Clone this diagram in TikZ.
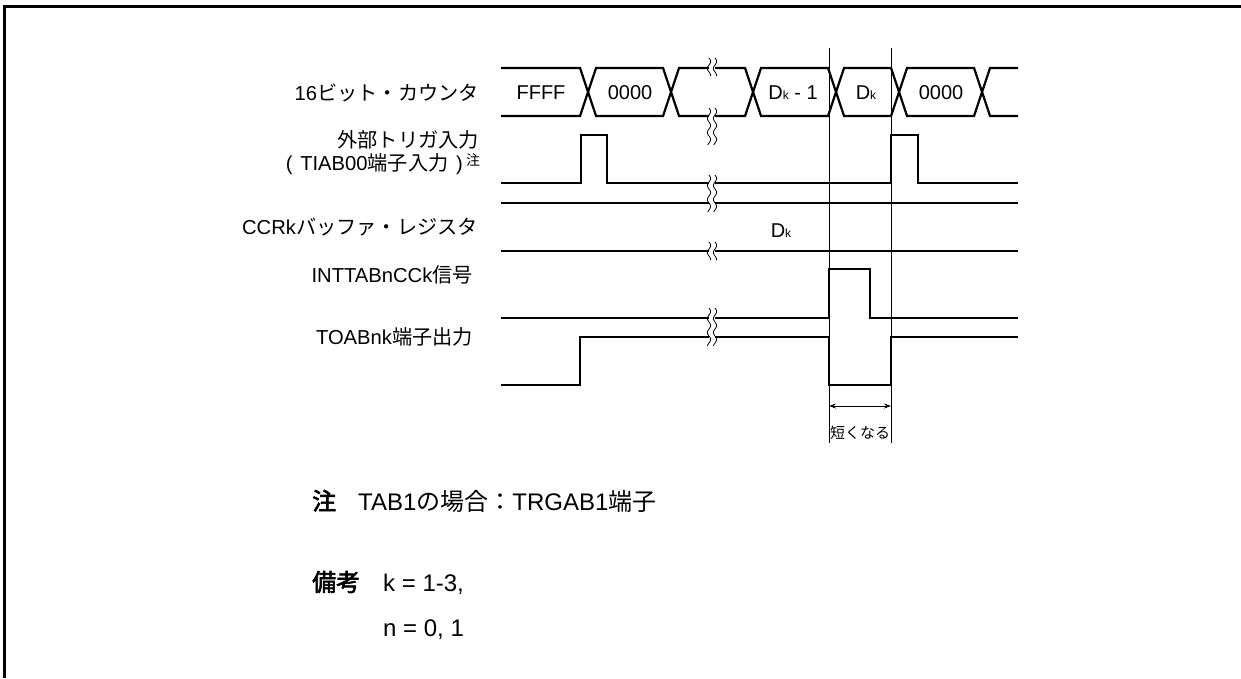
\documentclass[tikz,border=0pt]{standalone}
\usepackage{fontspec}
\setmainfont{Liberation Sans}
\newfontfamily\jp[AutoFakeBold=2.5]{Noto Sans CJK JP}
\usetikzlibrary{arrows.meta}
\newcommand\Dk{D{\fontsize{12}{12}\selectfont k}}
\newcommand\brkmark[3]{%
  \fill[white] (#1-3,#2) rectangle (#1+3,#3);
  \draw[line width=0.8pt] plot[domain=#2:#3, samples=40, smooth] ({#1-3+1.6*sin((\x-#2)*360/14)}, \x);
  \draw[line width=0.8pt] plot[domain=#2:#3, samples=40, smooth] ({#1+3+1.6*sin((\x-#2)*360/14)}, \x);
}
\begin{document}
\begin{tikzpicture}[x=1pt,y=-1pt,
  sig/.style={line width=2.2pt, line join=miter},
  thinl/.style={line width=0.9pt},
  lab/.style={anchor=base east, inner sep=0pt, font=\fontsize{20.2}{24}\selectfont},
  val/.style={anchor=base, inner sep=0pt, font=\fontsize{20}{24}\selectfont},
  note/.style={anchor=base west, inner sep=0pt, font=\fontsize{24}{28}\selectfont}]
\useasboundingbox (0,0) rectangle (1241,678);
% frame
\draw[line width=3pt] (4,678) -- (4,6) -- (1241,6);

% labels
\node[lab] (l1) at (479,100) {16{\jp ビット・カウンタ}};
\node[lab] (l2) at (479,147) {{\jp 外部トリガ入力}};
\node[lab] (l3) at (463,170) {(\hspace{0.1em} TIAB00{\jp 端子入力} \hspace{0.1em})};
\node[anchor=base west, inner sep=0pt, font=\fontsize{14}{15}\selectfont\jp] (l3n) at (466,165) {注};
\node[lab] (l4) at (478,234) {CCRk{\jp バッファ・レジスタ}};
\node[lab] (l5) at (473,282) {INTTABnCCk{\jp 信号}};
\node[lab] (l6) at (473,344) {TOABnk{\jp 端子出力}};

% counter bus
\draw[sig] (501,68) -- (580,68) -- (596,116) -- (663,116) -- (679,68) -- (745,68) -- (761,116)
  -- (828,116) -- (844,68) -- (891,68) -- (907,116) -- (974,116) -- (990,68) -- (1018,68);
\draw[sig] (501,116) -- (580,116) -- (596,68) -- (663,68) -- (679,116) -- (745,116) -- (761,68)
  -- (828,68) -- (844,116) -- (891,116) -- (907,68) -- (974,68) -- (990,116) -- (1018,116);
\node[val] (v1) at (541,99) {FFFF};
\node[val] (v2) at (630,99) {0000};
\node[val] (v3) at (793,99) {\Dk\ - 1};
\node[val] (v4) at (866,99) {\Dk};
\node[val] (v5) at (941,99) {0000};

% trigger
\draw[sig] (501,183) -- (581,183) -- (581,135) -- (607,135) -- (607,183) -- (891,183)
  -- (891,135) -- (918,135) -- (918,183) -- (1018,183);
% CCRk buffer
\draw[sig] (501,203) -- (1018,203);
\draw[sig] (501,251) -- (1018,251);
\node[val] (v6) at (781,237) {\Dk};
% INTTABnCCk
\draw[sig] (501,318) -- (829,318) -- (829,269) -- (870,269) -- (870,318) -- (1018,318);
% TOABnk
\draw[sig] (501,385) -- (580,385) -- (580,337) -- (829,337) -- (829,385) -- (891,385)
  -- (891,337) -- (1018,337);

% breaks
\brkmark{712}{58}{76}
\brkmark{712}{108}{145}
\brkmark{712}{175}{212}
\brkmark{712}{242}{260}
\brkmark{712}{308}{346}

% reference lines
\coordinate (t1) at (829,48);
\coordinate (b1) at (829,443);
\coordinate (t2) at (891,48);
\coordinate (b2) at (891,443);
\draw[thinl] (t1) -- (b1);
\draw[thinl] (t2) -- (b2);
\coordinate (a1) at (829,406);
\coordinate (a2) at (891,406);
\draw[thinl, {Stealth[length=7pt,width=5pt]}-{Stealth[length=7pt,width=5pt]}] (a1) -- (a2);
\node[anchor=base, inner sep=0pt, font=\fontsize{15}{18}\selectfont\jp] (sh) at (860,438) {短くなる};

% notes
\node[note] (n1) at (312,510) {{\jp\bfseries 注}};
\node[note] (n2) at (358,510) {TAB1{\jp の場合：}TRGAB1{\jp 端子}};
\node[note] (n3) at (312,591) {{\jp\bfseries 備考}};
\node[note] (n4) at (383,591) {k = 1-3,};
\node[note] (n5) at (383,636) {n = 0, 1};
\end{tikzpicture}
\end{document}
